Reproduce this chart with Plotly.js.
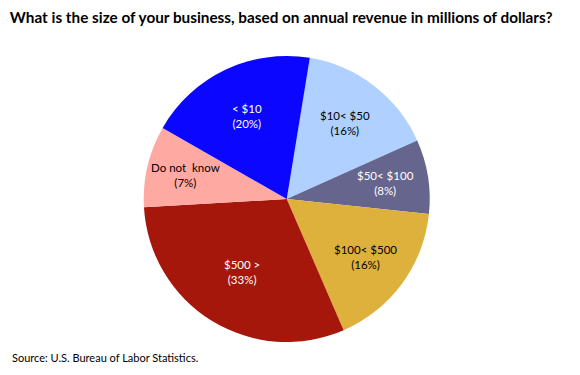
<!DOCTYPE html>
<html>
<head>
<meta charset="utf-8">
<script src="https://cdn.plot.ly/plotly-3.0.1.min.js"></script>
<style>html,body{margin:0;padding:0;background:#fff;}#chart{width:580px;height:375px;}</style>
</head>
<body>
<div id="chart"></div>
<script>
const categories = ['$10< $50', '$50< $100', '$100< $500', '$500 >', 'Do not  know', '< $10'];
const sliceValues = [15.7, 8.4, 16.8, 30.6, 9.2, 19.3];
const pctLabels = ['16%', '8%', '16%', '33%', '7%', '20%'];
const sliceColors = ['#B0D0FF', '#65658E', '#DEB03C', '#A5160B', '#FFA9A3', '#0A06FF'];
const textColors = ['#000000', '#FFFFFF', '#000000', '#FFFFFF', '#000000', '#FFFFFF'];

// layout constants (not data)
const W = 580, H = 375;
const pieDomain = {x: [0.2478, 0.7409], y: [0.088, 0.8507]};
const startAngle = 9.3;
const labelRadius = [0.67, 0.70, 0.68, 0.60, 0.73, 0.64];
const FONT = 'Lato, "Open Sans", sans-serif';

const cxPx = (pieDomain.x[0] + pieDomain.x[1]) / 2 * W;
const cyPx = H - (pieDomain.y[0] + pieDomain.y[1]) / 2 * H;
const Rpx = Math.min((pieDomain.x[1] - pieDomain.x[0]) * W, (pieDomain.y[1] - pieDomain.y[0]) * H) / 2;
const total = sliceValues.reduce((a, b) => a + b, 0);

let cum = 0;
const labelAnnotations = categories.map((c, i) => {
  const mid = startAngle + (cum + sliceValues[i] / 2) / total * 360;
  cum += sliceValues[i];
  const th = mid * Math.PI / 180;
  const r = labelRadius[i] * Rpx;
  const px = cxPx + r * Math.sin(th);
  const py = cyPx - r * Math.cos(th);
  return {
    text: c + '<br>(' + pctLabels[i] + ')',
    xref: 'paper', yref: 'paper', x: px / W, y: 1 - py / H,
    xanchor: 'center', yanchor: 'middle', showarrow: false, align: 'center',
    font: {family: FONT, size: 11.5, color: textColors[i]}
  };
});

const data = [{
  type: 'pie',
  labels: categories,
  values: sliceValues,
  textinfo: 'none',
  sort: false,
  direction: 'clockwise',
  rotation: startAngle,
  marker: {colors: sliceColors, line: {width: 0}},
  hoverinfo: 'none',
  domain: pieDomain
}];

const layout = {
  width: W, height: H,
  margin: {l: 0, r: 0, t: 0, b: 0},
  paper_bgcolor: '#FFFFFF',
  showlegend: false,
  title: {
    text: '<b>What is the size of your business, based on annual revenue in millions of dollars?</b>',
    font: {family: FONT, size: 15.3, color: '#000000'},
    x: 0.017, xanchor: 'left', y: 0.953, yanchor: 'middle'
  },
  annotations: labelAnnotations.concat([{
    text: 'Source: U.S. Bureau of Labor Statistics.',
    xref: 'paper', yref: 'paper', x: 0.017, y: 0.048,
    xanchor: 'left', yanchor: 'middle', showarrow: false,
    font: {family: FONT, size: 11, color: '#000000'}
  }])
};

Plotly.newPlot('chart', data, layout, {displayModeBar: false, staticPlot: true});
</script>
</body>
</html>
